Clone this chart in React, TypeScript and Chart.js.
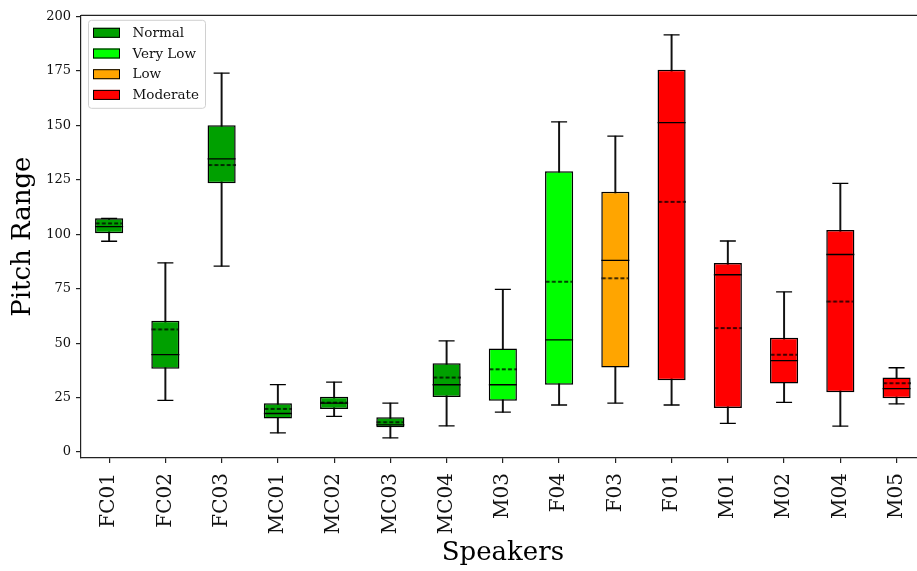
import React, { useEffect, useRef } from 'react';
import { Chart, registerables } from 'chart.js';

Chart.register(...registerables);

const speakers = ['FC01', 'FC02', 'FC03', 'MC01', 'MC02', 'MC03', 'MC04', 'M03', 'F04', 'F03', 'F01', 'M01', 'M02', 'M04', 'M05'];
const speakerGroup = ['Normal', 'Normal', 'Normal', 'Normal', 'Normal', 'Normal', 'Normal', 'Very Low', 'Very Low', 'Low', 'Moderate', 'Moderate', 'Moderate', 'Moderate', 'Moderate'];
const groupNames = ['Normal', 'Very Low', 'Low', 'Moderate'];
const groupColors = ['#00a000', '#00ff00', '#ffa500', '#ff0000'];

const whiskerLow = [96.8, 23.7, 85.4, 8.8, 16.4, 6.5, 12.0, 18.3, 21.6, 22.5, 21.6, 13.2, 22.8, 11.9, 22.1];
const q1 = [100.5, 38.2, 123.4, 15.4, 19.8, 11.4, 25.3, 23.6, 30.9, 38.8, 33.0, 20.2, 31.5, 27.4, 24.7];
const median = [103.5, 44.7, 134.6, 17.7, 22.5, 12.5, 30.9, 30.9, 51.5, 88.0, 151.3, 81.4, 42.0, 90.7, 29.1];
const mean = [105.0, 56.3, 131.8, 19.8, 22.7, 13.7, 34.2, 38.0, 78.2, 79.8, 114.9, 56.9, 44.7, 69.1, 31.6];
const q3 = [107.3, 60.3, 150.1, 22.4, 25.4, 16.0, 40.8, 47.5, 128.9, 119.5, 175.6, 86.8, 52.5, 102.0, 34.2];
const whiskerHigh = [107.3, 86.9, 174.0, 31.0, 32.1, 22.5, 51.0, 74.7, 151.6, 145.1, 191.6, 96.9, 73.5, 123.4, 38.7];

const yTicks = [0, 25, 50, 75, 100, 125, 150, 175, 200];

const SERIF = "'DejaVu Serif', serif";

function makeDash(): HTMLCanvasElement {
  const c = document.createElement('canvas');
  c.width = 28;
  c.height = 4;
  const g = c.getContext('2d')!;
  g.strokeStyle = '#000';
  g.lineWidth = 1.4;
  g.setLineDash([4, 2.2]);
  g.beginPath();
  g.moveTo(0.5, 2);
  g.lineTo(28, 2);
  g.stroke();
  return c;
}

const framePlugin = {
  id: 'frame',
  afterDraw(chart: any) {
    const { ctx, chartArea } = chart;
    ctx.save();
    ctx.strokeStyle = '#222';
    ctx.lineWidth = 1.2;
    ctx.beginPath();
    ctx.moveTo(chartArea.left, chartArea.top);
    ctx.lineTo(chartArea.right, chartArea.top);
    ctx.lineTo(chartArea.right, chartArea.bottom);
    ctx.stroke();
    ctx.restore();
  },
};

const legendPlugin = {
  id: 'boxLegend',
  afterDraw(chart: any) {
    const { ctx, chartArea } = chart;
    const x0 = chartArea.left + 7;
    const y0 = chartArea.top + 4.5;
    const w = 117;
    const h = 88;
    ctx.save();
    ctx.fillStyle = 'rgba(255,255,255,0.85)';
    ctx.strokeStyle = '#d0d0d0';
    ctx.lineWidth = 1;
    ctx.beginPath();
    (ctx as any).roundRect(x0 + 0.5, y0 + 0.5, w, h, 3);
    ctx.fill();
    ctx.stroke();
    ctx.font = `13.5px ${SERIF}`;
    ctx.textBaseline = 'middle';
    groupNames.forEach((name, i) => {
      const cy = y0 + 13 + i * 20.7;
      ctx.fillStyle = groupColors[i];
      ctx.fillRect(x0 + 5, cy - 5, 27, 10);
      ctx.strokeStyle = '#000';
      ctx.lineWidth = 1;
      ctx.strokeRect(x0 + 5.5, cy - 4.5, 26, 9);
      ctx.fillStyle = '#111';
      ctx.fillText(name, x0 + 44.5, cy + 0.5);
    });
    ctx.restore();
  },
};

export default function App() {
  const ref = useRef<HTMLCanvasElement>(null);

  useEffect(() => {
    if (!ref.current) return;
    const dash = makeDash();
    const boxColors = speakerGroup.map((g) => groupColors[groupNames.indexOf(g)]);
    const chart = new Chart(ref.current, {
      type: 'bar',
      data: {
        labels: speakers,
        datasets: [
          {
            type: 'line',
            label: 'Mean',
            data: mean,
            showLine: false,
            pointStyle: dash as any,
            pointRadius: 14,
            order: 0,
          } as any,
          {
            type: 'line',
            label: 'Median',
            data: median,
            showLine: false,
            pointStyle: 'line',
            pointRadius: 14,
            pointBorderColor: '#000',
            pointBorderWidth: 1.3,
            order: 1,
          } as any,
          {
            type: 'line',
            label: 'Upper whisker',
            data: whiskerHigh,
            showLine: false,
            pointStyle: 'line',
            pointRadius: 8,
            pointBorderColor: '#000',
            pointBorderWidth: 1.3,
            order: 2,
          } as any,
          {
            type: 'line',
            label: 'Lower whisker',
            data: whiskerLow,
            showLine: false,
            pointStyle: 'line',
            pointRadius: 8,
            pointBorderColor: '#000',
            pointBorderWidth: 1.3,
            order: 3,
          } as any,
          {
            type: 'bar',
            label: 'IQR',
            data: speakers.map((_, i) => [q1[i], q3[i]]),
            backgroundColor: boxColors,
            borderColor: '#000',
            borderWidth: 1.5,
            borderSkipped: false,
            barPercentage: 0.5,
            categoryPercentage: 1,
            grouped: false,
            order: 4,
          } as any,
          {
            type: 'bar',
            label: 'Whisker',
            data: speakers.map((_, i) => [whiskerLow[i], whiskerHigh[i]]),
            backgroundColor: '#111',
            barThickness: 1.3,
            grouped: false,
            order: 5,
          } as any,
        ],
      },
      options: {
        animation: false,
        responsive: false,
        devicePixelRatio: 1,
        layout: { padding: { left: 0, top: 9, right: 940 - 925.4, bottom: 0 } },
        plugins: {
          legend: { display: false },
          tooltip: { enabled: false },
        },
        scales: {
          x: {
            offset: true,
            grid: { drawOnChartArea: false, offset: false, tickLength: 5, color: '#222', lineWidth: 1.2 },
            border: { display: true, color: '#222', width: 1.2 },
            ticks: {
              autoSkip: false,
              minRotation: 90,
              maxRotation: 90,
              padding: 10,
              color: '#111',
              font: { family: SERIF, size: 20 },
            },
            title: {
              display: true,
              text: 'Speakers',
              color: '#000',
              font: { family: SERIF, size: 26 },
              padding: { top: 0, bottom: 2 },
            },
            afterFit: (s: any) => {
              s.height = 113;
            },
          },
          y: {
            min: -2.74,
            max: 200.55,
            afterBuildTicks: (s: any) => {
              s.ticks = yTicks.map((v) => ({ value: v }));
            },
            grid: { drawOnChartArea: false, tickLength: 5, color: '#222', lineWidth: 1.2 },
            border: { display: true, color: '#222', width: 1.2 },
            ticks: {
              padding: 5,
              color: '#111',
              font: { family: SERIF, size: 13 },
            },
            title: {
              display: true,
              text: 'Pitch Range',
              color: '#000',
              font: { family: SERIF, size: 26 },
              padding: { top: 8, bottom: 0 },
            },
            afterFit: (s: any) => {
              s.width = 81;
            },
          },
        },
      },
      plugins: [framePlugin, legendPlugin],
    });
    return () => chart.destroy();
  }, []);

  return (
    <div
      style={{
        position: 'fixed',
        left: 0,
        top: 0,
        width: 917,
        height: 571,
        overflow: 'hidden',
        background: '#fff',
      }}
    >
      <canvas ref={ref} width={940} height={571} style={{ display: 'block' }} />
    </div>
  );
}
